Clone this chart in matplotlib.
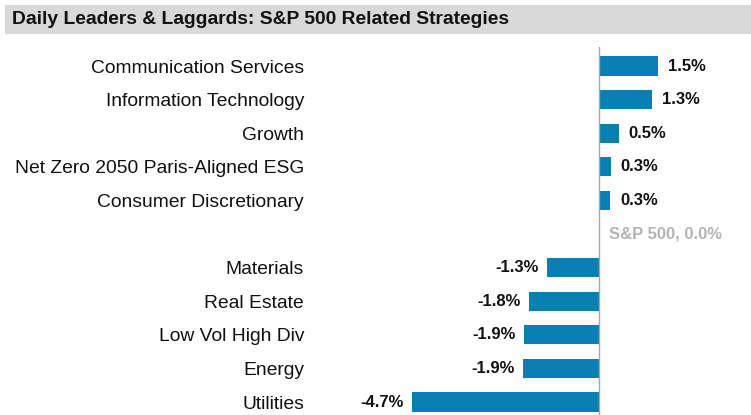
import matplotlib
matplotlib.use("Agg")
import matplotlib.pyplot as plt
from matplotlib.patches import Rectangle

plt.rcParams['font.family'] = ['Liberation Sans', 'DejaVu Sans']

title = "Daily Leaders & Laggards: S&P 500 Related Strategies"
categories = ["Communication Services", "Information Technology", "Growth",
              "Net Zero 2050 Paris-Aligned ESG", "Consumer Discretionary", "",
              "Materials", "Real Estate", "Low Vol High Div", "Energy", "Utilities"]
values = [1.49, 1.34, 0.50, 0.30, 0.29, 0.0, -1.31, -1.76, -1.90, -1.92, -4.73]
labels = ["1.5%", "1.3%", "0.5%", "0.3%", "0.3%", "S&P 500, 0.0%",
          "-1.3%", "-1.8%", "-1.9%", "-1.9%", "-4.7%"]
benchmark_index = 5

W, H = 751, 415
fig = plt.figure(figsize=(W / 100, H / 100), dpi=100)

# title bar
fig.patches.append(Rectangle((5 / W, 1 - 34 / H), 1 - 5 / W, 29 / H,
                             transform=fig.transFigure, facecolor="#d9d9d9",
                             edgecolor="none", zorder=0))
fig.text(12 / W, 1 - 19.5 / H, title, fontsize=13.9, fontweight="bold",
         color="#111111", va="center", ha="left")

left_px, right_px, top_px, bot_px = 320, 751, 47, 415
ax = fig.add_axes([left_px / W, 1 - bot_px / H, (right_px - left_px) / W,
                   (bot_px - top_px) / H])
zero_px, scale = 599, 39.6
ax.set_xlim(-(zero_px - left_px) / scale, (right_px - zero_px) / scale)
row = 33.6
ax.set_ylim(10 + (bot_px - 402) / row, -(66 - top_px) / row)

ypos = list(range(len(categories)))
ax.barh(ypos, values, height=0.57, color="#0a7fb1", zorder=2)
ax.axvline(0, color="#a6a6a6", lw=1.0, zorder=3)

fs_val = 12
for i, (v, lab) in enumerate(zip(values, labels)):
    if i == benchmark_index:
        ax.annotate(lab, (0, i), xytext=(7, 0), textcoords="offset points",
                    ha="left", va="center", fontsize=fs_val, fontweight="bold",
                    color="#b3b3b3")
    elif v >= 0:
        ax.annotate(lab, (v, i), xytext=(7, 0), textcoords="offset points",
                    ha="left", va="center", fontsize=fs_val, fontweight="bold",
                    color="#111111")
    else:
        ax.annotate(lab, (v, i), xytext=(-6, 0), textcoords="offset points",
                    ha="right", va="center", fontsize=fs_val, fontweight="bold",
                    color="#111111")

ax.set_yticks(ypos)
ax.set_yticklabels(categories, fontsize=13.9, color="#111111")
ax.tick_params(axis="y", length=0, pad=11.5)
ax.set_xticks([])
for s in ax.spines.values():
    s.set_visible(False)

fig.savefig("out.png", dpi=100)
